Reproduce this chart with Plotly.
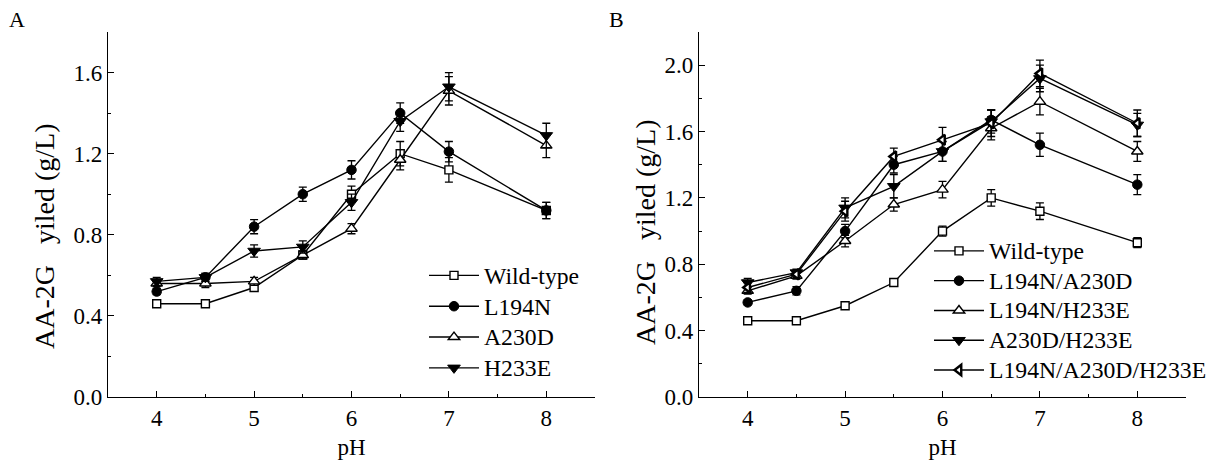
import plotly.graph_objects as go

# ---------------- data ----------------
pH = [4, 4.5, 5, 5.5, 6, 6.5, 7, 8]

# Panel A
wt_A = [0.46, 0.46, 0.54, 0.70, 1.00, 1.20, 1.12, 0.92]
wt_A_err = [0.01, 0.01, 0.015, 0.015, 0.04, 0.06, 0.06, 0.04]
l194n_A = [0.52, 0.59, 0.84, 1.00, 1.12, 1.40, 1.21, 0.92]
l194n_A_err = [0.015, 0.02, 0.035, 0.035, 0.045, 0.05, 0.05, 0.04]
a230d_A = [0.56, 0.56, 0.57, 0.70, 0.83, 1.17, 1.51, 1.24]
a230d_A_err = [0.015, 0.02, 0.02, 0.02, 0.025, 0.05, 0.07, 0.06]
h233e_A = [0.57, 0.59, 0.72, 0.74, 0.96, 1.36, 1.53, 1.29]
h233e_A_err = [0.02, 0.02, 0.03, 0.03, 0.04, 0.05, 0.07, 0.06]

# Panel B
wt_B = [0.46, 0.46, 0.55, 0.69, 1.00, 1.20, 1.12, 0.93]
wt_B_err = [0.01, 0.01, 0.01, 0.015, 0.03, 0.05, 0.05, 0.03]
l194n_a230d = [0.57, 0.64, 1.00, 1.40, 1.48, 1.67, 1.52, 1.28]
l194n_a230d_err = [0.015, 0.025, 0.04, 0.05, 0.06, 0.06, 0.07, 0.06]
l194n_h233e = [0.64, 0.73, 0.94, 1.16, 1.25, 1.62, 1.78, 1.48]
l194n_h233e_err = [0.02, 0.02, 0.035, 0.04, 0.05, 0.07, 0.08, 0.06]
a230d_h233e = [0.69, 0.75, 1.14, 1.27, 1.48, 1.66, 1.92, 1.64]
a230d_h233e_err = [0.025, 0.02, 0.06, 0.07, 0.06, 0.07, 0.08, 0.07]
triple = [0.66, 0.74, 1.12, 1.45, 1.55, 1.65, 1.95, 1.65]
triple_err = [0.03, 0.02, 0.06, 0.05, 0.075, 0.08, 0.08, 0.08]

x_ticks = [4, 5, 6, 7, 8]

FONT = "Liberation Serif, Times New Roman, serif"

STYLES = {
    "square": dict(symbol="square", size=8, color="white", line=dict(color="black", width=1.4)),
    "circle": dict(symbol="circle", size=9.5, color="black", line=dict(color="black", width=1)),
    "tri_up": dict(symbol="triangle-up", size=10, color="white", line=dict(color="black", width=1.4)),
    "tri_down": dict(symbol="triangle-down", size=11, color="black", line=dict(color="black", width=1)),
    "tri_left": dict(symbol="triangle-left", size=9, color="white", line=dict(color="black", width=2.4)),
}

fig = go.Figure()


def add(y, err, name, style, xa, ya, legend):
    fig.add_trace(go.Scatter(
        x=pH, y=y, name='<span style="font-size:23.7px">%s</span>' % name, mode="lines+markers",
        line=dict(color="black", width=1.4),
        marker=STYLES[style],
        error_y=dict(type="data", array=err, color="black", thickness=1.3, width=4),
        xaxis=xa, yaxis=ya, legend=legend,
    ))


add(wt_A, wt_A_err, "Wild-type", "square", "x", "y", "legend")
add(l194n_A, l194n_A_err, "L194N", "circle", "x", "y", "legend")
add(a230d_A, a230d_A_err, "A230D", "tri_up", "x", "y", "legend")
add(h233e_A, h233e_A_err, "H233E", "tri_down", "x", "y", "legend")

add(wt_B, wt_B_err, "Wild-type", "square", "x2", "y2", "legend2")
add(l194n_a230d, l194n_a230d_err, "L194N/A230D", "circle", "x2", "y2", "legend2")
add(l194n_h233e, l194n_h233e_err, "L194N/H233E", "tri_up", "x2", "y2", "legend2")
add(a230d_h233e, a230d_h233e_err, "A230D/H233E", "tri_down", "x2", "y2", "legend2")
add(triple, triple_err, "L194N/A230D/H233E", "tri_left", "x2", "y2", "legend2")

# page body has an 8px margin; the figure is placed so that it lands on the
# reference pixel positions inside the 1221x460 window
OFF = 8
W, H = 1221 - OFF, 460 - OFF
L, R, T, B = 108 - OFF, 35, 32 - OFF, 63
PW = W - L - R
PH_ = H - T - B


def px_x(p):
    return (p - OFF - L) / PW


def px_y(p):
    return (H - B - (p - OFF)) / PH_


xcommon = dict(
    range=[3.5, 8.5], tickvals=x_ticks, ticks="inside", ticklen=6, tickwidth=1.2,
    tickcolor="black", showline=True, linecolor="black", linewidth=1.3,
    showgrid=False, zeroline=False,
    minor=dict(dtick=0.5, tick0=4, ticks="inside", ticklen=3, tickcolor="black", tickwidth=1.2, showgrid=False),
    tickfont=dict(family=FONT, size=23, color="black"),
    title=dict(text="pH", font=dict(family=FONT, size=23, color="black"), standoff=9),
)
ycommon = dict(
    ticks="inside", ticklen=6, tickwidth=1.2, tickcolor="black", showline=True,
    linecolor="black", linewidth=1.3, showgrid=False, zeroline=False, tickformat=".1f",
    tickfont=dict(family=FONT, size=23, color="black"), dtick=0.4, tick0=0,
)

dA = [0, px_x(595)]
dB = [px_x(699), 1]

fig.update_layout(
    width=W, height=H,
    margin=dict(l=L, r=R, t=T, b=B, autoexpand=False),
    paper_bgcolor="white", plot_bgcolor="white",
    font=dict(family=FONT, size=22, color="black"),
    xaxis=dict(domain=dA, anchor="y", **xcommon),
    xaxis2=dict(domain=dB, anchor="y2", **xcommon),
    yaxis=dict(domain=[0, 1], anchor="x", range=[0, 1.8],
               minor=dict(dtick=0.2, ticks="inside", ticklen=3, tickcolor="black", tickwidth=1.2, showgrid=False),
               **ycommon),
    yaxis2=dict(domain=[0, 1], anchor="x2", range=[0, 2.2],
                minor=dict(dtick=0.2, ticks="inside", ticklen=3, tickcolor="black", tickwidth=1.2, showgrid=False),
                **ycommon),
    legend=dict(x=px_x(424), y=px_y(255), xanchor="left", yanchor="top",
                bgcolor="rgba(0,0,0,0)", font=dict(family=FONT, size=21.4, color="black"),
                itemwidth=50, tracegroupgap=0),
    legend2=dict(x=px_x(929), y=px_y(231), xanchor="left", yanchor="top",
                 bgcolor="rgba(0,0,0,0)", font=dict(family=FONT, size=20.6, color="black"),
                 itemwidth=50, tracegroupgap=0),
    showlegend=True,
)

for txt, cx in [("A", 7), ("B", 607)]:
    fig.add_annotation(text=txt, x=px_x(cx), y=px_y(20), xref="paper", yref="paper",
                       xanchor="left", yanchor="middle", showarrow=False,
                       font=dict(family=FONT, size=22, color="black"))

for cx, cy in [(45, 236), (645, 232)]:
    fig.add_annotation(text="AA-2G\u00a0\u00a0 yiled (g/L)", x=px_x(cx), y=px_y(cy), xref="paper", yref="paper",
                       xanchor="center", yanchor="middle", textangle=-90, showarrow=False,
                       font=dict(family=FONT, size=28, color="black"))

fig.write_html("out.html")
